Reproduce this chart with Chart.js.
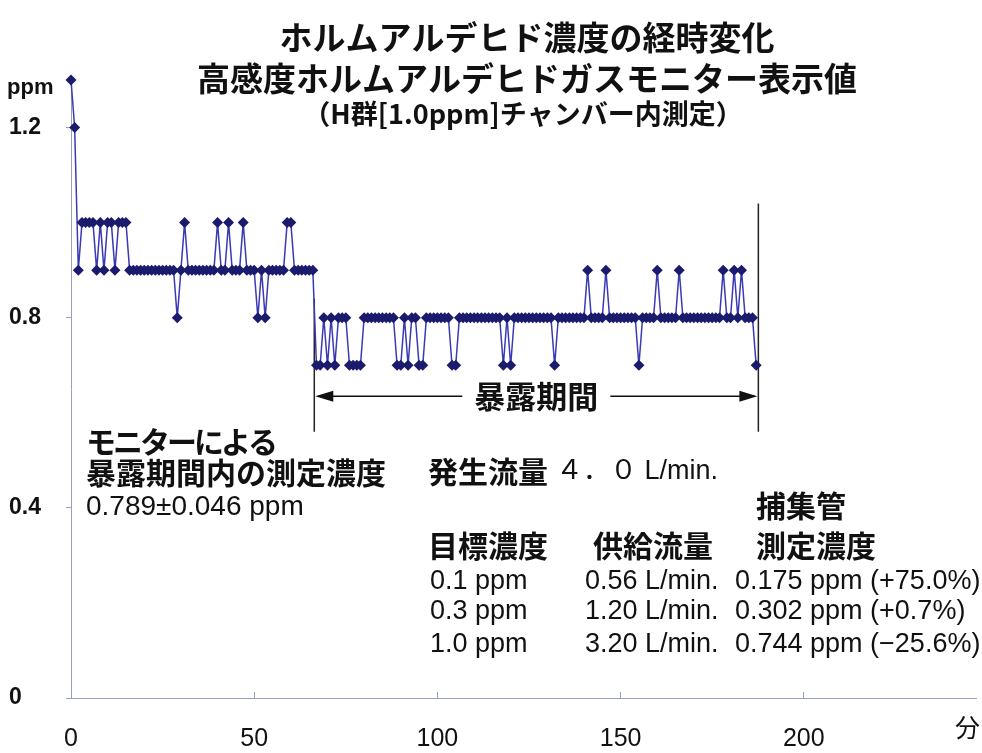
<!DOCTYPE html>
<html lang="ja">
<head>
<meta charset="utf-8">
<script src="https://cdn.jsdelivr.net/npm/chart.js@4.4.0/dist/chart.umd.min.js"></script>
<style>
  html, body { margin: 0; padding: 0; background: #fff; }
  #wrap { width: 982px; height: 753px; }
</style>
</head>
<body>
<div id="wrap"><canvas id="formChart" width="982" height="753"></canvas></div>
<script>
// モニター読み取り間隔（分）
const SAMPLE_STEP = 1;

// 高感度ガスモニター表示値 (ppm)
const ppmReadings = [
  1.3, 1.2, 0.9, 1.0, 1.0, 1.0, 1.0, 0.9, 1.0, 0.9,
  1.0, 1.0, 0.9, 1.0, 1.0, 1.0, 0.9, 0.9, 0.9, 0.9,
  0.9, 0.9, 0.9, 0.9, 0.9, 0.9, 0.9, 0.9, 0.9, 0.8,
  0.9, 1.0, 0.9, 0.9, 0.9, 0.9, 0.9, 0.9, 0.9, 0.9,
  1.0, 0.9, 0.9, 1.0, 0.9, 0.9, 0.9, 1.0, 0.9, 0.9,
  0.9, 0.8, 0.9, 0.8, 0.9, 0.9, 0.9, 0.9, 0.9, 1.0,
  1.0, 0.9, 0.9, 0.9, 0.9, 0.9, 0.9, 0.7, 0.7, 0.8,
  0.7, 0.8, 0.7, 0.8, 0.8, 0.8, 0.7, 0.7, 0.7, 0.7,
  0.8, 0.8, 0.8, 0.8, 0.8, 0.8, 0.8, 0.8, 0.8, 0.7,
  0.7, 0.8, 0.7, 0.8, 0.8, 0.7, 0.7, 0.8, 0.8, 0.8,
  0.8, 0.8, 0.8, 0.8, 0.7, 0.7, 0.8, 0.8, 0.8, 0.8,
  0.8, 0.8, 0.8, 0.8, 0.8, 0.8, 0.8, 0.8, 0.7, 0.8,
  0.7, 0.8, 0.8, 0.8, 0.8, 0.8, 0.8, 0.8, 0.8, 0.8,
  0.8, 0.8, 0.7, 0.8, 0.8, 0.8, 0.8, 0.8, 0.8, 0.8,
  0.8, 0.9, 0.8, 0.8, 0.8, 0.8, 0.9, 0.8, 0.8, 0.8,
  0.8, 0.8, 0.8, 0.8, 0.8, 0.7, 0.8, 0.8, 0.8, 0.8,
  0.9, 0.8, 0.8, 0.8, 0.8, 0.8, 0.9, 0.8, 0.8, 0.8,
  0.8, 0.8, 0.8, 0.8, 0.8, 0.8, 0.8, 0.8, 0.9, 0.8,
  0.8, 0.9, 0.8, 0.9, 0.8, 0.8, 0.8, 0.7
];

const xTicks = [0, 50, 100, 150, 200];
const yTicks = [0, 0.4, 0.8, 1.2];

// 暴露期間（分）
const exposurePeriod = [66.4, 187.6];

const titleLines = [
  'ホルムアルデヒド濃度の経時変化',
  '高感度ホルムアルデヒドガスモニター表示値',
  '（H群[1.0ppm]チャンバー内測定）'
];

const monitorNote = ['モニターによる', '暴露期間内の測定濃度', '0.789±0.046 ppm'];

const flowHeader = '発生流量';
const flowValue = '４．０ L/min.';
const tableHead = ['目標濃度', '供給流量', '測定濃度'];
const targetConc = ['0.1 ppm', '0.3 ppm', '1.0 ppm'];
const supplyFlow = ['0.56 L/min.', '1.20 L/min.', '3.20 L/min.'];
const tubeConc = ['0.175 ppm (+75.0%)', '0.302 ppm (+0.7%)', '0.744 ppm (−25.6%)'];

const JP = "'Noto Sans CJK JP', sans-serif";
const LAT = "'Liberation Sans', Arial, 'Noto Sans CJK JP', sans-serif";
const axisColor = '#98a0bd';

const points = ppmReadings.map((v, i) => ({ x: i * SAMPLE_STEP, y: v }));

const overlay = {
  id: 'overlay',
  beforeDatasetsDraw(chart) {
    const { ctx, scales: { x, y } } = chart;
    const x0 = x.getPixelForValue(exposurePeriod[0]);
    const x1 = x.getPixelForValue(exposurePeriod[1]);
    ctx.save();
    ctx.strokeStyle = '#222';
    ctx.lineWidth = 1.5;
    ctx.beginPath();
    ctx.moveTo(x0, y.getPixelForValue(0.84));
    ctx.lineTo(x0, y.getPixelForValue(0.56));
    ctx.moveTo(x1, y.getPixelForValue(1.04));
    ctx.lineTo(x1, y.getPixelForValue(0.56));
    ctx.stroke();
    ctx.restore();
  },
  afterDraw(chart) {
    const { ctx, scales: { x, y } } = chart;
    ctx.save();
    ctx.fillStyle = '#111';
    ctx.textBaseline = 'middle';

    // タイトル
    ctx.textAlign = 'center';
    ctx.font = 'bold 33px ' + JP;
    ctx.fillText(titleLines[0], 527, 37);
    ctx.fillText(titleLines[1], 527, 78);
    ctx.font = 'bold 27px ' + JP;
    ctx.fillText(titleLines[2], 523, 114);

    // 縦軸単位
    ctx.textAlign = 'left';
    ctx.font = 'bold 22px ' + LAT;
    ctx.fillText('ppm', 7, 88);
    // 横軸単位
    ctx.font = '25px ' + JP;
    ctx.fillText('分', 955, 727);

    // 暴露期間の矢印
    const x0 = x.getPixelForValue(exposurePeriod[0]);
    const x1 = x.getPixelForValue(exposurePeriod[1]);
    const ya = y.getPixelForValue(0.635);
    ctx.strokeStyle = '#111';
    ctx.lineWidth = 1.5;
    ctx.beginPath();
    ctx.moveTo(x0 + 4, ya);
    ctx.lineTo(x1 - 4, ya);
    ctx.stroke();
    ctx.beginPath();
    ctx.moveTo(x0 + 1, ya);
    ctx.lineTo(x0 + 19, ya - 5.5);
    ctx.lineTo(x0 + 19, ya + 5.5);
    ctx.closePath();
    ctx.moveTo(x1 - 1, ya);
    ctx.lineTo(x1 - 19, ya - 5.5);
    ctx.lineTo(x1 - 19, ya + 5.5);
    ctx.closePath();
    ctx.fill();
    ctx.font = 'bold 31px ' + JP;
    const label = '暴露期間';
    const lw = ctx.measureText(label).width;
    const xm = (x0 + x1) / 2;
    ctx.fillStyle = '#fff';
    ctx.fillRect(xm - lw / 2 - 12, ya - 18, lw + 24, 36);
    ctx.fillStyle = '#111';
    ctx.textAlign = 'center';
    ctx.fillText(label, xm, ya);

    // モニター測定濃度
    ctx.textAlign = 'left';
    ctx.font = 'bold 30px ' + JP;
    ctx.letterSpacing = '-3px';
    ctx.fillText(monitorNote[0], 86, 442);
    ctx.letterSpacing = '0px';
    ctx.fillText(monitorNote[1], 86, 473);
    ctx.font = '28px ' + LAT;
    ctx.fillText(monitorNote[2], 86, 507);

    // 発生流量・捕集管の表
    ctx.font = 'bold 30px ' + JP;
    ctx.fillText(flowHeader, 428, 472);
    ctx.font = '27px ' + LAT;
    ctx.fillText(flowValue, 556, 472);
    ctx.font = 'bold 30px ' + JP;
    ctx.fillText('捕集管', 756, 506);
    ctx.fillText(tableHead[0], 428, 546);
    ctx.fillText(tableHead[1], 593, 546);
    ctx.fillText(tableHead[2], 756, 546);
    ctx.font = '27px ' + LAT;
    const rowY = [582, 612, 645];
    rowY.forEach((ry, i) => {
      ctx.fillText(targetConc[i], 430, ry);
      ctx.fillText(supplyFlow[i], 585, ry);
      ctx.fillText(tubeConc[i], 735, ry);
    });
    ctx.restore();
  }
};

const ctx = document.getElementById('formChart');
const chart = new Chart(ctx, {
  type: 'line',
  data: {
    datasets: [{
      data: points,
      borderColor: '#3a3ab4',
      borderWidth: 1.5,
      pointStyle: 'rectRot',
      pointRadius: 5.5,
      pointBackgroundColor: '#1b1b6e',
      pointBorderColor: '#1b1b6e',
      pointBorderWidth: 0,
      tension: 0,
      clip: false
    }]
  },
  options: {
    responsive: false,
    animation: false,
    layout: { padding: { left: 9, right: 6, top: 80, bottom: 0 } },
    plugins: {
      legend: { display: false },
      tooltip: { enabled: false },
      title: { display: false }
    },
    scales: {
      x: {
        type: 'linear',
        min: 0,
        max: 247,
        afterBuildTicks: (s) => { s.ticks = xTicks.map(v => ({ value: v })); },
        afterFit: (s) => { s.height = 55; },
        grid: { drawOnChartArea: false, drawTicks: true, tickLength: -6, color: axisColor },
        border: { color: axisColor, width: 1 },
        ticks: {
          padding: 32,
          maxRotation: 0,
          color: '#111',
          font: { family: LAT, size: 25 },
          callback: (v) => String(v)
        }
      },
      y: {
        min: 0,
        max: 1.3,
        afterBuildTicks: (s) => { s.ticks = yTicks.map(v => ({ value: v })); },
        afterFit: (s) => { s.width = 62; },
        grid: { drawOnChartArea: false, drawTicks: true, tickLength: 5, color: axisColor },
        border: { color: axisColor, width: 1 },
        ticks: {
          crossAlign: 'far',
          color: '#111',
          font: { family: LAT, size: 23, weight: 'bold' },
          callback: (v) => String(v)
        }
      }
    }
  },
  plugins: [overlay]
});
</script>
</body>
</html>
